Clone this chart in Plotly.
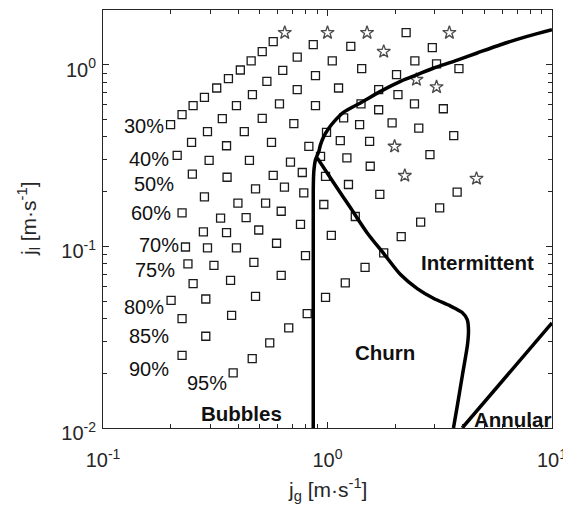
import math
import plotly.graph_objects as go

# ---- data (jg, jl in m/s) ----
jg_30 = [0.200, 0.225, 0.252, 0.283, 0.321, 0.362, 0.409, 0.457, 0.512, 0.573]
jl_30 = [0.468, 0.531, 0.595, 0.661, 0.744, 0.838, 0.935, 1.05, 1.18, 1.34]
jg_40 = [0.214, 0.248, 0.292, 0.340, 0.393, 0.463, 0.537, 0.632, 0.733, 0.864]
jl_40 = [0.317, 0.374, 0.428, 0.505, 0.595, 0.684, 0.809, 0.930, 1.10, 1.29]
jg_50 = [0.250, 0.297, 0.355, 0.426, 0.512, 0.611, 0.733, 0.884, 1.05, 1.27]
jl_50 = [0.250, 0.297, 0.358, 0.428, 0.506, 0.608, 0.729, 0.870, 1.05, 1.26]
jg_60 = [0.225, 0.283, 0.357, 0.449, 0.563, 0.708, 0.884, 1.12, 1.42, 2.24]
jl_60 = [0.153, 0.187, 0.240, 0.297, 0.374, 0.474, 0.595, 0.744, 0.951, 1.50]
jg_70 = [0.233, 0.280, 0.334, 0.399, 0.478, 0.573, 0.684, 0.826, 0.990, 1.18, 1.41, 1.69, 2.03, 2.45, 2.93]
jl_70 = [0.0992, 0.120, 0.143, 0.173, 0.207, 0.246, 0.291, 0.355, 0.424, 0.509, 0.608, 0.729, 0.881, 1.05, 1.24]
jg_75 = [0.239, 0.292, 0.355, 0.434, 0.530, 0.643, 0.772, 0.931, 1.14, 1.39, 1.69, 2.06, 3.06]
jl_75 = [0.0800, 0.0980, 0.119, 0.144, 0.173, 0.212, 0.255, 0.313, 0.382, 0.468, 0.565, 0.684, 1.01]
jg_80 = [0.201, 0.252, 0.312, 0.393, 0.494, 0.622, 0.784, 0.980, 1.22, 1.54, 1.94, 2.44, 3.85]
jl_80 = [0.0504, 0.0623, 0.0786, 0.0980, 0.123, 0.156, 0.197, 0.243, 0.307, 0.378, 0.478, 0.608, 0.951]
jg_85 = [0.225, 0.287, 0.370, 0.470, 0.593, 0.758, 0.963, 1.24, 1.55, 2.55, 3.28]
jl_85 = [0.0400, 0.0513, 0.0650, 0.0817, 0.104, 0.132, 0.170, 0.219, 0.276, 0.448, 0.572]
jg_90 = [0.225, 0.287, 0.374, 0.478, 0.622, 0.798, 1.04, 1.33, 1.71, 2.86, 3.65]
jl_90 = [0.0251, 0.0320, 0.0417, 0.0531, 0.0692, 0.0889, 0.115, 0.146, 0.193, 0.320, 0.407]
jg_95 = [0.380, 0.462, 0.553, 0.672, 0.812, 0.980, 1.20, 1.47, 1.78, 2.13, 2.60, 3.16, 3.78]
jl_95 = [0.0201, 0.0241, 0.0294, 0.0356, 0.0426, 0.0524, 0.0629, 0.0766, 0.0920, 0.113, 0.136, 0.163, 0.199]

star_jg = [0.645, 1.00, 1.50, 1.78, 3.49, 2.49, 3.06, 1.99, 2.21, 4.61]
star_jl = [1.50, 1.50, 1.50, 1.18, 1.50, 0.827, 0.754, 0.355, 0.245, 0.236]

# flow-regime boundaries
b1_jg = [0.864, 0.864, 0.869, 0.884, 0.915, 0.931, 0.963, 1.010, 1.074, 1.182, 1.403, 1.722, 2.114, 2.51, 2.975, 3.652, 4.643, 5.897, 7.754, 10.0]
b1_jl = [0.010, 0.205, 0.258, 0.300, 0.333, 0.363, 0.403, 0.444, 0.489, 0.548, 0.616, 0.713, 0.809, 0.881, 0.959, 1.043, 1.16, 1.288, 1.431, 1.558]
b2_jg = [0.900, 1.067, 1.266, 1.503, 1.781, 2.114, 2.510, 2.975, 3.532, 3.981, 4.192, 4.246, 4.204, 3.994, 3.794, 3.640]
b2_jl = [0.307, 0.223, 0.163, 0.1185, 0.0912, 0.0699, 0.0585, 0.0516, 0.0469, 0.0432, 0.0395, 0.0348, 0.0288, 0.0197, 0.01345, 0.010]
b3_jg = [3.981, 10.0]
b3_jl = [0.010, 0.0379]

pct_text = ["30%", "40%", "50%", "60%", "70%", "75%", "80%", "85%", "90%", "95%"]
pct_jg = [0.153, 0.161, 0.168, 0.1644, 0.1767, 0.1713, 0.153, 0.1595, 0.1595, 0.292]
pct_jl = [0.4615, 0.304, 0.2214, 0.1532, 0.1022, 0.0744, 0.0466, 0.0323, 0.0212, 0.01778]

reg_text = ["Bubbles", "Churn", "Intermittent", "Annular"]
reg_jg = [0.415, 1.81, 4.68, 6.69]
reg_jl = [0.0120, 0.0261, 0.0815, 0.0112]

x_tickvals = [0.1, 1, 10]
x_ticktext = ["10<sup>-1</sup>", "10<sup>0</sup>", "10<sup>1</sup>"]
y_tickvals = [0.01, 0.1, 1]
y_ticktext = ["10<sup>-2</sup>", "10<sup>-1</sup>", "10<sup>0</sup>"]

FONT = "Liberation Sans, Arial, Helvetica, sans-serif"
fig = go.Figure()

series = [(jg_30, jl_30), (jg_40, jl_40), (jg_50, jl_50), (jg_60, jl_60), (jg_70, jl_70),
          (jg_75, jl_75), (jg_80, jl_80), (jg_85, jl_85), (jg_90, jl_90), (jg_95, jl_95)]
for xs, ys in series:
    fig.add_trace(go.Scatter(x=xs, y=ys, mode="markers",
                             marker=dict(symbol="square-open", size=8, color="#1a1a1a",
                                         line=dict(width=1.3, color="#1a1a1a"))))
fig.add_trace(go.Scatter(x=star_jg, y=star_jl, mode="markers",
                         marker=dict(symbol="star-open", size=10, color="#4a4a4a",
                                     line=dict(width=1.3, color="#4a4a4a"))))

for xs, ys, shape in [(b1_jg, b1_jl, "spline"), (b2_jg, b2_jl, "spline"), (b3_jg, b3_jl, "linear")]:
    fig.add_trace(go.Scatter(x=xs, y=ys, mode="lines",
                             line=dict(color="black", width=3.5, shape=shape, smoothing=0.7)))

for t, xv, yv in zip(pct_text, pct_jg, pct_jl):
    fig.add_annotation(x=math.log10(xv), y=math.log10(yv), xref="x", yref="y", text=t,
                       showarrow=False, font=dict(family=FONT, size=20, color="#111111"))
for t, xv, yv in zip(reg_text, reg_jg, reg_jl):
    fig.add_annotation(x=math.log10(xv), y=math.log10(yv), xref="x", yref="y", text="<b>" + t + "</b>",
                       showarrow=False, font=dict(family=FONT, size=20.5, color="#111111"))

# axis titles
fig.add_annotation(xref="paper", yref="paper", x=0.5, y=-0.148, yanchor="middle",
                   text="j<sub>g</sub> [m·s<sup>-1</sup>]", showarrow=False,
                   font=dict(family=FONT, size=21, color="#262626"))
fig.add_annotation(xref="paper", yref="paper", x=-0.167, y=0.5, xanchor="center", textangle=-90,
                   text="j<sub>l</sub> [m·s<sup>-1</sup>]", showarrow=False,
                   font=dict(family=FONT, size=21, color="#262626"))

minor_x = [0.2, 0.3, 0.4, 0.5, 0.6, 0.7, 0.8, 0.9, 2, 3, 4, 5, 6, 7, 8, 9]
minor_y = [0.02, 0.03, 0.04, 0.05, 0.06, 0.07, 0.08, 0.09, 0.2, 0.3, 0.4, 0.5, 0.6, 0.7, 0.8, 0.9, 2]

common = dict(type="log", showline=True, linecolor="#262626", linewidth=1, mirror="allticks",
              ticks="inside", ticklen=6, tickwidth=1, tickcolor="#262626",
              showgrid=False, zeroline=False, ticklabeloverflow="allow",
              tickfont=dict(family=FONT, size=20, color="#262626"))
fig.update_xaxes(range=[-1, 1], tickvals=x_tickvals, ticktext=x_ticktext, ticklabelstandoff=14,
                 minor=dict(tickvals=minor_x, ticks="inside", ticklen=4, tickwidth=1, tickcolor="#262626"),
                 **common)
fig.update_yaxes(range=[-2, math.log10(2)], tickvals=y_tickvals, ticktext=y_ticktext,
                 ticklabelstandoff=2, ticklabelshift=5,
                 minor=dict(tickvals=minor_y, ticks="inside", ticklen=4, tickwidth=1, tickcolor="#262626"),
                 **common)
fig.update_layout(width=563, height=513, margin=dict(l=103, r=11, t=10, b=85, autoexpand=False),
                  paper_bgcolor="white", plot_bgcolor="white", showlegend=False,
                  font=dict(family=FONT, color="#262626"))
fig.write_html("out.html")
